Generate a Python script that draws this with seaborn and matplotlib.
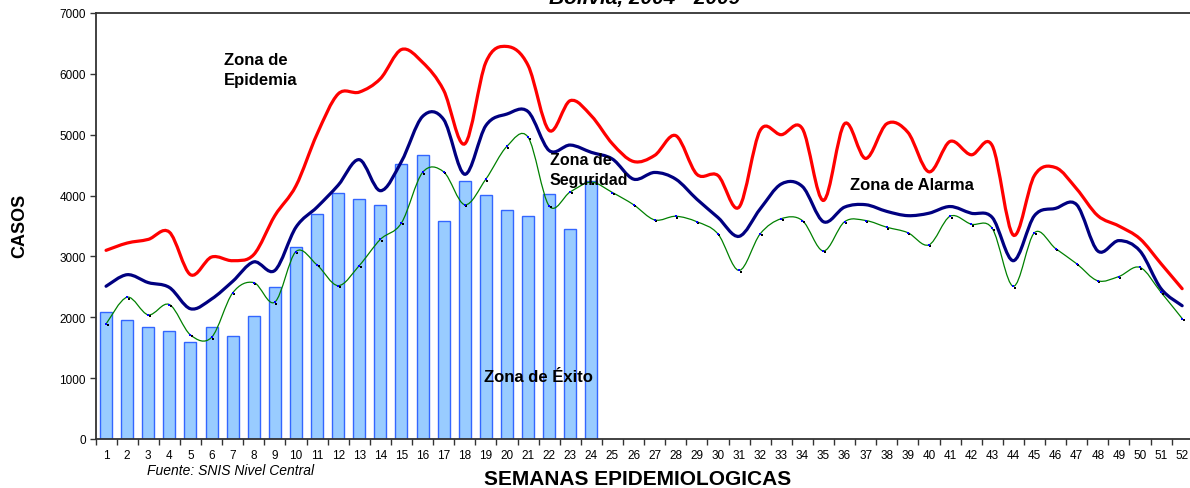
import numpy as np
import pandas as pd
import seaborn as sns
import matplotlib.pyplot as plt
from matplotlib.path import Path
from matplotlib.patches import PathPatch
from matplotlib.transforms import ScaledTranslation

# datos (casos por semana epidemiologica)
semanas = list(range(1, 53))
semanas_2009 = list(range(1, 25))
casos_2009 = [2090, 1960, 1840, 1780, 1600, 1840, 1700, 2020, 2490, 3160,
              3700, 4050, 3940, 3840, 4520, 4660, 3580, 4240, 4010, 3770,
              3670, 4020, 3450, 4240]
epidemia = [3100, 3220, 3280, 3400, 2700, 2990, 2930, 3030, 3670, 4160,
            5010, 5670, 5700, 5920, 6400, 6190, 5730, 4850, 6190, 6450,
            6140, 5070, 5560, 5310, 4850, 4560, 4660, 4985, 4350, 4330,
            3810, 5070, 5000, 5100, 3920, 5180, 4610, 5180, 5040, 4390,
            4890, 4670, 4820, 3350, 4330, 4460, 4110, 3670, 3500, 3290,
            2880, 2470]
alarma = [2510, 2700, 2570, 2490, 2140, 2300, 2590, 2910, 2770, 3480,
          3810, 4170, 4590, 4080, 4560, 5300, 5250, 4350, 5150, 5340,
          5380, 4740, 4830, 4710, 4600, 4270, 4380, 4270, 3940, 3640,
          3330, 3780, 4190, 4150, 3570, 3810, 3850, 3740, 3670, 3710,
          3820, 3710, 3640, 2930, 3670, 3790, 3850, 3090, 3260, 3090,
          2470, 2190]
seguridad = [1890, 2330, 2040, 2210, 1710, 1670, 2400, 2570, 2250, 3080,
             2860, 2520, 2850, 3280, 3550, 4380, 4390, 3850, 4270, 4810,
             4960, 3830, 4060, 4220, 4050, 3850, 3600, 3660, 3570, 3370,
             2770, 3370, 3620, 3590, 3090, 3570, 3590, 3480, 3390, 3190,
             3660, 3530, 3460, 2510, 3390, 3130, 2880, 2600, 2670, 2820,
             2410, 1980]


def curva(ax, xs, ys, **kw):
    # linea suavizada tipo Excel (Bezier por los puntos)
    pts = np.column_stack([xs, ys]).astype(float)
    n = len(pts)
    verts = [pts[0]]
    codes = [Path.MOVETO]
    for i in range(n - 1):
        p0 = pts[max(i - 1, 0)]
        p1 = pts[i]
        p2 = pts[i + 1]
        p3 = pts[min(i + 2, n - 1)]
        verts += [p1 + (p2 - p0) / 6, p2 - (p3 - p1) / 6, p2]
        codes += [Path.CURVE4] * 3
    ax.add_patch(PathPatch(Path(verts, codes), fill=False, capstyle='round', **kw))


sns.set_style("ticks")
plt.rcParams['font.family'] = ['Liberation Sans', 'DejaVu Sans']
plt.rcParams['text.color'] = 'black'
plt.rcParams['xtick.labelcolor'] = 'black'
plt.rcParams['ytick.labelcolor'] = 'black'

W, H = 1190, 489
fig = plt.figure(figsize=(W / 100, H / 100), dpi=100)
ax = fig.add_axes([95.5 / W, 1 - 440 / H, 1097.2 / W, 426 / H])

df = pd.DataFrame({'semana': semanas_2009, 'casos': casos_2009})
sns.barplot(data=df, x='semana', y='casos', native_scale=True, width=0.57,
            color='#99CCFF', edgecolor='#3366FF', linewidth=1, saturation=1, ax=ax)

curva(ax, semanas, epidemia, edgecolor='#FF0000', lw=2.3, zorder=3)
curva(ax, semanas, alarma, edgecolor='#000080', lw=2.3, zorder=3)
curva(ax, semanas, seguridad, edgecolor='#008000', lw=0.9, zorder=3)

dfs = pd.DataFrame({'semana': semanas, 'casos': seguridad})
sombra = ax.transData + ScaledTranslation(1.5 / 100, -1.5 / 100, fig.dpi_scale_trans)
sns.scatterplot(data=dfs, x='semana', y='casos', marker='s', s=4, color='black',
                linewidth=0, ax=ax, zorder=4, transform=sombra)
sns.scatterplot(data=dfs, x='semana', y='casos', marker='s', s=4, color='#0000FF',
                linewidth=0, ax=ax, zorder=5)

ax.set_xlim(0.5, 52.5)
ax.set_ylim(0, 7000)
ax.set_yticks(range(0, 7001, 1000))
ax.set_xticks(np.arange(0.5, 53, 1))
ax.set_xticklabels([])
ax.set_xticks(semanas, minor=True)
ax.set_xticklabels([str(s) for s in semanas], minor=True)
ax.tick_params(axis='x', which='minor', length=0, pad=7, labelsize=8.5)
ax.tick_params(axis='x', which='major', length=4, width=1, color='#333333')
ax.tick_params(axis='y', length=4, width=1, color='#333333', labelsize=8.5, pad=3)
ax.set_xlabel('')
ax.set_ylabel('')
for s in ['left', 'bottom', 'top']:
    ax.spines[s].set_color('#333333')
    ax.spines[s].set_linewidth(1.3)
ax.spines['right'].set_visible(False)


def px(x, y):
    return x / W, 1 - y / H


fig.text(*px(645, 4), 'Bolivia, 2004 - 2009', ha='center', va='baseline',
         weight='bold', style='italic', fontsize=15)
fig.text(*px(20, 226), 'CASOS', rotation=90, ha='center', va='center',
         weight='bold', fontsize=13)
fig.text(*px(638, 480), 'SEMANAS EPIDEMIOLOGICAS', ha='center', va='center',
         weight='bold', fontsize=15)
fig.text(*px(147, 471), 'Fuente: SNIS Nivel Central', ha='left', va='center',
         style='italic', fontsize=10)

fig.text(*px(224, 53), 'Zona de\nEpidemia', ha='left', va='top', weight='bold',
         fontsize=12, linespacing=1.45)
fig.text(*px(550, 153), 'Zona de\nSeguridad', ha='left', va='top', weight='bold',
         fontsize=11.5, linespacing=1.4)
fig.text(*px(850, 186), 'Zona de Alarma', ha='left', va='center', weight='bold',
         fontsize=12)
fig.text(*px(484, 377), 'Zona de Éxito', ha='left', va='center', weight='bold',
         fontsize=12)

fig.savefig('out.png', dpi=100)
